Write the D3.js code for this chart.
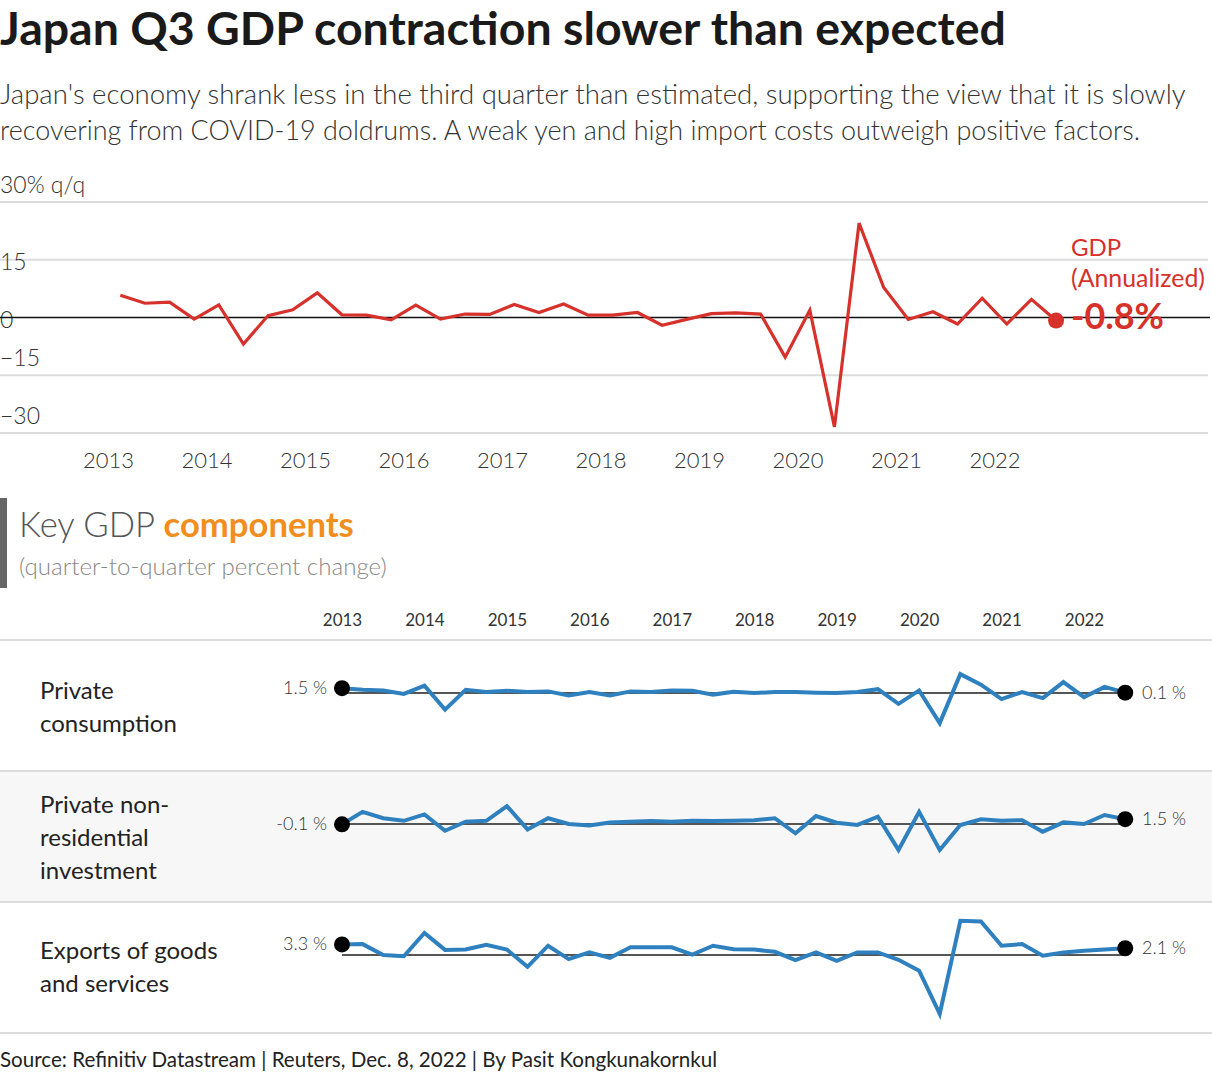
<!DOCTYPE html>
<html>
<head>
<meta charset="utf-8">
<script src="https://cdn.jsdelivr.net/npm/d3@7"></script>
<style>
  html, body { margin: 0; padding: 0; background: #fff; }
  svg { display: block; }
</style>
</head>
<body>
<svg id="chart" width="1212" height="1080"></svg>
<script>
// ---------------- DATA ----------------
const quarters = [
  "2013Q1","2013Q2","2013Q3","2013Q4","2014Q1","2014Q2","2014Q3","2014Q4",
  "2015Q1","2015Q2","2015Q3","2015Q4","2016Q1","2016Q2","2016Q3","2016Q4",
  "2017Q1","2017Q2","2017Q3","2017Q4","2018Q1","2018Q2","2018Q3","2018Q4",
  "2019Q1","2019Q2","2019Q3","2019Q4","2020Q1","2020Q2","2020Q3","2020Q4",
  "2021Q1","2021Q2","2021Q3","2021Q4","2022Q1","2022Q2","2022Q3"
];
const gdpAnnualized = [5.8, 3.7, 4.0, -0.4, 3.3, -6.9, 0.5, 2.0, 6.4, 0.7, 0.6, -0.6, 3.2, -0.4, 0.9, 0.8,
  3.4, 1.3, 3.5, 0.6, 0.6, 1.3, -2.0, -0.5, 1.0, 1.2, 0.9, -10.3, 1.9, -28.4, 24.5, 7.8,
  -0.5, 1.5, -1.7, 5.0, -1.7, 4.7, -0.8];
const privateConsumption = [1.5, 1.0, 0.8, -0.3, 2.3, -5.2, 1.0, 0.3, 0.7, 0.3, 0.5, -0.8, 0.3, -0.8, 0.5, 0.3,
  0.8, 0.7, -0.5, 0.4, 0.0, 0.3, 0.3, 0.1, 0.0, 0.3, 1.2, -3.4, 0.8, -9.4, 5.9, 2.6,
  -1.9, 0.3, -1.6, 3.4, -1.3, 1.9, 0.1];
const nonResInvestment = [-0.1, 3.8, 1.8, 1.0, 3.0, -2.1, 0.7, 1.0, 5.6, -1.7, 1.8, 0.0, -0.5, 0.5, 0.7, 0.9,
  0.7, 1.0, 0.9, 1.0, 1.2, 1.8, -2.9, 2.5, 0.4, -0.3, 2.3, -8.1, 3.8, -8.1, -0.3, 1.5,
  1.0, 1.2, -2.4, 0.5, 0.0, 2.8, 1.5];
const exportsGS = [3.3, 3.4, 0.0, -0.4, 6.9, 1.6, 1.7, 3.2, 1.7, -3.7, 2.9, -1.3, 0.8, -0.9, 2.4, 2.4,
  2.4, 0.1, 2.9, 1.8, 1.7, 1.0, -1.6, 0.8, -1.8, 0.8, 0.8, -1.5, -4.9, -18.4, 10.7, 10.5,
  2.9, 3.4, -0.2, 0.8, 1.3, 1.7, 2.1];
const yearTicks = [2013, 2014, 2015, 2016, 2017, 2018, 2019, 2020, 2021, 2022];
const gdpTicks = [30, 15, 0, -15, -30];
const componentNames = [
  ["Private", "consumption"],
  ["Private non-", "residential", "investment"],
  ["Exports of goods", "and services"]
];
const componentSeries = [privateConsumption, nonResInvestment, exportsGS];
const componentStartLabels = ["1.5 %", "-0.1 %", "3.3 %"];
const componentEndLabels = ["0.1 %", "1.5 %", "2.1 %"];

// ---------------- HELPERS ----------------
const FONT = "'Source Sans Pro', Lato, 'Noto Sans', sans-serif";
const svg = d3.select("#chart");
svg.append("rect").attr("width", 1212).attr("height", 1080).attr("fill", "#fff");
function fit(sel, w) {
  const len = sel.node().getComputedTextLength();
  const fs = parseFloat(sel.attr("font-size"));
  if (len > 0) sel.attr("font-size", (fs * w / len).toFixed(2));
  return sel;
}
function qYear(q) { return +q.slice(0, 4) + (+q.slice(5) - 1) * 0.25; }
const minus = v => (v < 0 ? "\u2212" + Math.abs(v) : "" + v);

// ---------------- TITLE ----------------
const title = svg.append("text").attr("x", 0).attr("y", 45)
  .attr("font-family", FONT).attr("font-weight", 700).attr("font-size", 44)
  .attr("fill", "#1a1a1a").text("Japan Q3 GDP contraction slower than expected");
fit(title, 1006);

const sub1 = svg.append("text").attr("x", 0).attr("y", 104)
  .attr("font-family", FONT).attr("font-weight", 300).attr("font-size", 26)
  .attr("fill", "#333").text("Japan's economy shrank less in the third quarter than estimated, supporting the view that it is slowly");
fit(sub1, 1186);
const sub2 = svg.append("text").attr("x", 0).attr("y", 140)
  .attr("font-family", FONT).attr("font-weight", 300).attr("font-size", sub1.attr("font-size"))
  .attr("fill", "#333").text("recovering from COVID-19 doldrums. A weak yen and high import costs outweigh positive factors.");
fit(sub2, 1140);

// ---------------- TOP CHART ----------------
const xTop = d3.scaleLinear().domain([2013, 2022]).range([108, 994.5]);
const yTop = d3.scaleLinear().domain([-30, 30]).range([433, 202]);
const red = "#d6312b";

const grid = svg.append("g");
grid.selectAll("line").data(gdpTicks.filter(d => d !== 0)).join("line")
  .attr("x1", 0).attr("x2", 1208)
  .attr("y1", d => yTop(d)).attr("y2", d => yTop(d))
  .attr("stroke", "#dcdcdc").attr("stroke-width", 2);

grid.selectAll("text").data(gdpTicks).join("text")
  .attr("x", 0)
  .attr("y", d => yTop(d) + ((d === 30 || d < 0) ? -9 : 10.5))
  .attr("font-family", FONT).attr("font-weight", 300).attr("font-size", 23)
  .attr("fill", "#333")
  .text(d => d === 30 ? "30% q/q" : minus(d));

svg.append("line").attr("x1", 0).attr("x2", 1210)
  .attr("y1", yTop(0)).attr("y2", yTop(0))
  .attr("stroke", "#111").attr("stroke-width", 1.5);

const xAxisTop = d3.axisBottom(xTop).tickValues(yearTicks).tickFormat(d3.format("d")).tickSize(0);
const gx = svg.append("g").attr("transform", "translate(0,449)").call(xAxisTop);
gx.select(".domain").remove();
gx.selectAll("text").attr("font-family", FONT).attr("font-weight", 300)
  .attr("font-size", 22).attr("fill", "#333").attr("dy", "0.71em");

const lineTop = d3.line()
  .x((d, i) => xTop(qYear(quarters[i]) + 0.125))
  .y(d => yTop(d));
svg.append("path").datum(gdpAnnualized).attr("d", lineTop)
  .attr("fill", "none").attr("stroke", red).attr("stroke-width", 3.2)
  .attr("stroke-linejoin", "miter");

const lastI = gdpAnnualized.length - 1;
svg.append("circle")
  .attr("cx", xTop(qYear(quarters[lastI]) + 0.125))
  .attr("cy", yTop(gdpAnnualized[lastI]))
  .attr("r", 8).attr("fill", red);

svg.append("text").attr("x", 1071).attr("y", 256)
  .attr("font-family", FONT).attr("font-size", 24).attr("fill", red).text("GDP");
const ann = svg.append("text").attr("x", 1071).attr("y", 287)
  .attr("font-family", FONT).attr("font-size", 24).attr("fill", red).text("(Annualized)");
fit(ann, 134);
const big = svg.append("text").attr("x", 1071).attr("y", 329)
  .attr("font-family", FONT).attr("font-weight", 700).attr("font-size", 36)
  .attr("fill", red).text(gdpAnnualized[lastI] + "%");
fit(big, 93);

// ---------------- COMPONENTS HEADER ----------------
svg.append("rect").attr("x", 0).attr("y", 498).attr("width", 7).attr("height", 90).attr("fill", "#666");
const kh = svg.append("text").attr("x", 19).attr("y", 537)
  .attr("font-family", FONT).attr("font-size", 31).attr("fill", "#555");
kh.append("tspan").attr("font-weight", 300).text("Key GDP ");
kh.append("tspan").attr("font-weight", 700).attr("fill", "#f28e1e").text("components");
fit(kh, 335);
const ks = svg.append("text").attr("x", 19).attr("y", 575)
  .attr("font-family", FONT).attr("font-weight", 300).attr("font-size", 23)
  .attr("fill", "#888").text("(quarter-to-quarter percent change)");
fit(ks, 368);

// ---------------- SMALL MULTIPLES ----------------
const xSm = d3.scaleLinear().domain([2013, 2022]).range([342, 1084]);
const xAxisSm = d3.axisBottom(xSm).tickValues(yearTicks).tickFormat(d3.format("d")).tickSize(0);
const gxs = svg.append("g").attr("transform", "translate(0,611)").call(xAxisSm);
gxs.select(".domain").remove();
gxs.selectAll("text").attr("font-family", FONT).attr("font-weight", 400)
  .attr("font-size", 17).attr("fill", "#333").attr("dy", "0.71em");

const rowTops = [640, 771, 902];
const rowH = 131;
const blue = "#2e80bf";

componentSeries.forEach((series, r) => {
  const top = rowTops[r];
  if (r === 1) {
    svg.append("rect").attr("x", 0).attr("y", top).attr("width", 1212).attr("height", rowH).attr("fill", "#f7f7f7");
  }
  const zeroY = top + 53;
  const ySm = d3.scaleLinear().domain([-20, 20]).range([zeroY + 64, zeroY - 64]);
  const g = svg.append("g");

  const names = componentNames[r];
  const firstBase = r === 1 ? top + 42 : (r === 0 ? top + 59 : top + 57);
  names.forEach((nm, k) => {
    g.append("text").attr("x", 40).attr("y", firstBase + k * 33)
      .attr("font-family", FONT).attr("font-size", 24).attr("fill", "#222").text(nm);
  });

  g.append("line").attr("x1", xSm(qYear(quarters[0]))).attr("x2", xSm(qYear(quarters[series.length - 1])))
    .attr("y1", ySm(0)).attr("y2", ySm(0)).attr("stroke", "#555").attr("stroke-width", 1.8);

  const ln = d3.line().x((d, i) => xSm(qYear(quarters[i]))).y(d => ySm(d));
  g.append("path").datum(series).attr("d", ln).attr("fill", "none")
    .attr("stroke", blue).attr("stroke-width", 4).attr("stroke-linejoin", "miter");

  const ends = [0, series.length - 1];
  g.selectAll("circle").data(ends).join("circle")
    .attr("cx", i => xSm(qYear(quarters[i]))).attr("cy", i => ySm(series[i]))
    .attr("r", 8).attr("fill", "#000");

  g.append("text").attr("x", 327).attr("y", ySm(series[0]) + 6)
    .attr("text-anchor", "end").attr("font-family", FONT).attr("font-weight", 300)
    .attr("font-size", 18).attr("fill", "#333").text(componentStartLabels[r]);
  g.append("text").attr("x", 1142).attr("y", ySm(series[series.length - 1]) + 6)
    .attr("font-family", FONT).attr("font-weight", 300)
    .attr("font-size", 18).attr("fill", "#333").text(componentEndLabels[r]);
});

// separators
svg.selectAll("line.sep").data([640, 771, 902, 1033]).join("line").attr("class", "sep")
  .attr("x1", 0).attr("x2", 1212).attr("y1", d => d).attr("y2", d => d)
  .attr("stroke", "#dcdcdc").attr("stroke-width", 2);

// ---------------- SOURCE ----------------
const src = svg.append("text").attr("x", 0).attr("y", 1067)
  .attr("font-family", FONT).attr("font-size", 21).attr("fill", "#222")
  .text("Source: Refinitiv Datastream | Reuters, Dec. 8, 2022 | By Pasit Kongkunakornkul");
fit(src, 717);
</script>
</body>
</html>
